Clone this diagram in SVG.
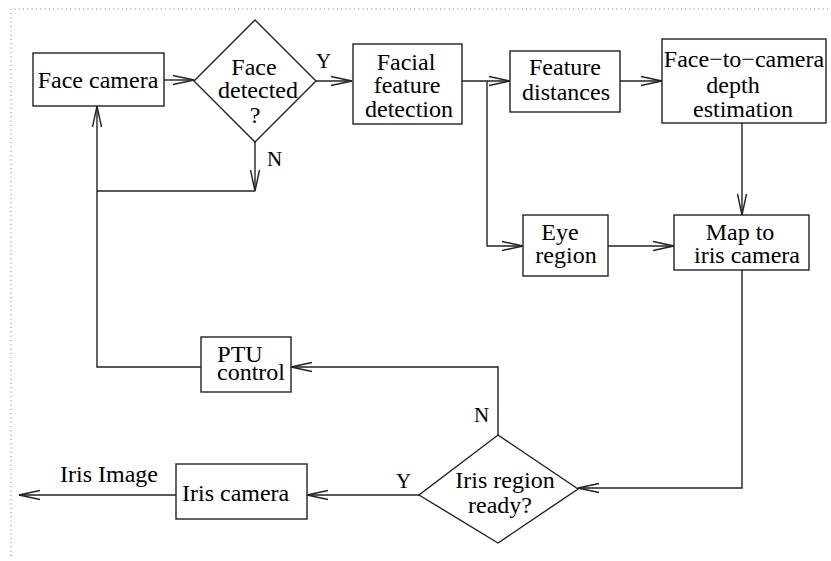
<svg xmlns="http://www.w3.org/2000/svg" width="831" height="561" viewBox="0 0 831 561">
  <style>
    .frame { fill: none; stroke: #777; stroke-width: 1; stroke-dasharray: 1 3.3; }
    .box { fill: #fff; stroke: #222; stroke-width: 1.4; }
    .wire { fill: none; stroke: #222; stroke-width: 1.4; }
    text { font-family: "Liberation Serif", "Times New Roman", serif; font-size: 24px; fill: #000; }
    .c { text-anchor: middle; }
    .lbl { font-size: 21px; }
  </style>
  <defs>
    <marker id="arr" markerUnits="userSpaceOnUse" markerWidth="26" markerHeight="12" viewBox="-23 -6 26 12" refX="0" refY="0" orient="auto">
      <path d="M-21,-4.5 L0,0 L-21,4.5" fill="none" stroke="#222" stroke-width="1.4"/>
    </marker>
  </defs>
  <rect width="831" height="561" fill="#fff"/>
  <!-- dotted page frame -->
  <path class="frame" d="M11,556 L11,9 L831,9"/>

  <g id="connectors">
    <path class="wire" d="M164,80 L194,80" marker-end="url(#arr)"/>
    <path class="wire" d="M316,81 L352,81" marker-end="url(#arr)"/>
    <path class="wire" d="M462,81 L510,81" marker-end="url(#arr)"/>
    <path class="wire" d="M487,81 L487,246 L523,246" marker-end="url(#arr)"/>
    <path class="wire" d="M620,81 L662,81" marker-end="url(#arr)"/>
    <path class="wire" d="M742,123 L742,215" marker-end="url(#arr)"/>
    <path class="wire" d="M608,246 L674,246" marker-end="url(#arr)"/>
    <path class="wire" d="M742,270 L742,488 L578,488" marker-end="url(#arr)"/>
    <path class="wire" d="M498,435 L498,367 L291,367" marker-end="url(#arr)"/>
    <path class="wire" d="M201,367 L97,367 L97,106" marker-end="url(#arr)"/>
    <path class="wire" d="M255,142 L255,191" marker-end="url(#arr)"/>
    <path class="wire" d="M255,191 L97,191"/>
    <path class="wire" d="M419,495 L307,495" marker-end="url(#arr)"/>
    <path class="wire" d="M176,495 L19,495" marker-end="url(#arr)"/>
    <text class="lbl" x="316" y="68">Y</text>
    <text class="lbl" x="267" y="166">N</text>
    <text class="lbl" x="474" y="422">N</text>
    <text class="lbl" x="396" y="488">Y</text>
    <text x="60" y="482">Iris Image</text>
  </g>

  <g id="face-camera">
    <rect class="box" x="33" y="53" width="131" height="53"/>
    <text class="c" x="98" y="88">Face camera</text>
  </g>

  <g id="face-detected">
    <polygon class="box" points="255,20 316,81 255,142 194,81"/>
    <text class="c" x="254" y="75">Face</text>
    <text class="c" x="258" y="98">detected</text>
    <text class="c" x="255" y="123">?</text>
  </g>

  <g id="facial-feature-detection">
    <rect class="box" x="353" y="44" width="109" height="80"/>
    <text class="c" x="406" y="70">Facial</text>
    <text class="c" x="407" y="93">feature</text>
    <text class="c" x="409" y="117">detection</text>
  </g>

  <g id="feature-distances">
    <rect class="box" x="510" y="51" width="110" height="61"/>
    <text class="c" x="565" y="75">Feature</text>
    <text class="c" x="566" y="100">distances</text>
  </g>

  <g id="depth-estimation">
    <rect class="box" x="662" y="39" width="164" height="84"/>
    <text class="c" x="744" y="67">Face−to−camera</text>
    <text class="c" x="733" y="93">depth</text>
    <text class="c" x="743" y="117">estimation</text>
  </g>

  <g id="eye-region">
    <rect class="box" x="523" y="215" width="85" height="61"/>
    <text class="c" x="560" y="240">Eye</text>
    <text class="c" x="566" y="263">region</text>
  </g>

  <g id="map-to-iris-camera">
    <rect class="box" x="674" y="215" width="135" height="55"/>
    <text class="c" x="740" y="240">Map to</text>
    <text class="c" x="747" y="263">iris camera</text>
  </g>

  <g id="iris-region-ready">
    <polygon class="box" points="498,435 578,489 498,543 419,495"/>
    <text class="c" x="505" y="488">Iris region</text>
    <text class="c" x="500" y="513">ready?</text>
  </g>

  <g id="ptu-control">
    <rect class="box" x="201" y="337" width="90" height="55"/>
    <text class="c" x="240" y="362">PTU</text>
    <text class="c" x="251" y="380">control</text>
  </g>

  <g id="iris-camera">
    <rect class="box" x="176" y="464" width="131" height="55"/>
    <text x="182" y="501">Iris camera</text>
  </g>
</svg>
